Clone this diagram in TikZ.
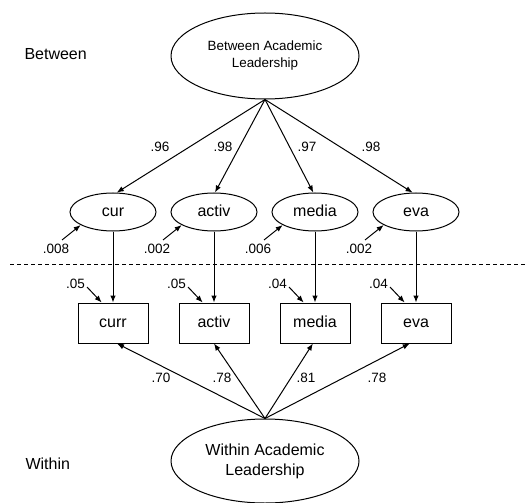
\documentclass[tikz,border=0pt]{standalone}
\usepackage{fontspec}
\setmainfont{Liberation Sans}
\usetikzlibrary{shapes.geometric,arrows.meta}

\begin{document}
\begin{tikzpicture}[x=1pt, y=-1pt, line width=1pt, >={Latex[length=7pt,width=5.5pt]}]

    \tikzset{factor/.style={%
      draw,%
      ellipse,%
      inner sep=0pt,%
      minimum width=188pt,%
      minimum height=86pt,%
      align=center}%
    };

    \tikzset{facet/.style={draw, ellipse, inner sep=0pt, minimum width=86pt, minimum height=38pt,
      text height=12pt, text depth=3pt, font=\fontsize{16}{19}\selectfont}};

    \tikzset{indic/.style={draw, rectangle, inner sep=0pt, minimum width=70pt, minimum height=40pt,
      text height=12pt, text depth=3pt, font=\fontsize{16}{19}\selectfont}};

    \tikzset{coef/.style={inner sep=0pt, font=\fontsize{13.5}{16}\selectfont}};

    \tikzset{level/.style={inner sep=0pt, anchor=base west, font=\fontsize{16}{19}\selectfont}};

    \useasboundingbox (0,0) rectangle (526,502);

    %%%%%%%%%%%%%%%%
    % two factors  %
    %%%%%%%%%%%%%%%%
    \path (265,56) node [factor, font=\fontsize{13.4}{17}\selectfont] (bal) {Between Academic\\Leadership};

    \path (265,461) node [factor, minimum height=84pt, font=\fontsize{16}{20}\selectfont] (wal) {Within Academic\\Leadership};

    \path (24,60) node [level] (betw) {Between};

    \path (25,469) node [level] (with) {Within};

    %%%%%%%%%%%%%%%%
    % level split  %
    %%%%%%%%%%%%%%%%
    \coordinate (dl) at (10,264);
    \coordinate (dr) at (526,264);
    \draw [line width=0.8pt, dash pattern=on 4pt off 3pt] (dl) -- (dr);

    %%%%%%%%%%%%%%%%
    % indicators   %
    %%%%%%%%%%%%%%%%
    \foreach \n/\x/\ftxt/\btxt in {cur/113/cur/curr, activ/214/activ/activ, media/315/media/media, eva/416/eva/eva} {
      \path (\x,212) node [facet] (\n) {\ftxt};
      \path (\x,323) node [indic] (obs\n) {\btxt};
      \draw [->] (\n) -- (obs\n);
    }

    % between loadings
    \foreach \n/\a/\lx/\lv in {cur/79/160/.96, activ/87/223/.98, media/95/307/.97, eva/100/371/.98} {
      \draw [->] (bal.south) -- (\n.\a);
      \path (\lx,147) node [coef] (lb\n) {\lv};
    }

    % within loadings
    \foreach \n/\a/\lx/\lv in {cur/-79/161/.70, activ/-90/222/.78, media/-96/306/.81, eva/-107/377/.78} {
      \draw [->] (wal.north) -- (obs\n.\a);
      \path (\lx,378) node [coef] (lw\n) {\lv};
    }

    % residuals
    \foreach \n/\x/\rv/\ev in {cur/113/.008/.05, activ/214/.002/.05, media/315/.006/.04, eva/416/.002/.04} {
      \path (\x-57,249) node [coef] (r\n) {\rv};
      \coordinate (t\n) at (\x-51,240);
      \draw [->] (t\n) -- (\n.202);
      \path (\x-37.5,284) node [coef] (e\n) {\ev};
      \coordinate (u\n) at (\x-26,287);
      \draw [->] (u\n) -- (obs\n.119);
    }

  \end{tikzpicture}
\end{document}
